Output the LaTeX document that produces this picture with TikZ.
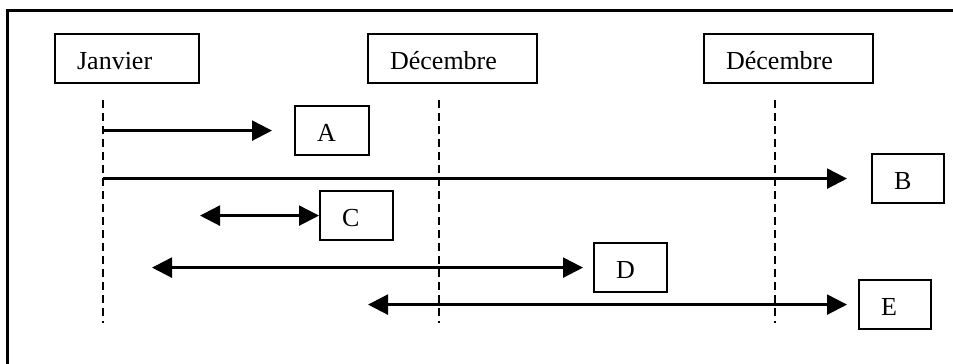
\documentclass[tikz,border=0pt]{standalone}
\usepackage{fontspec}
\setmainfont{Liberation Serif}
\usetikzlibrary{arrows.meta}
\begin{document}
\begin{tikzpicture}[x=1pt,y=-1pt,
  lbl/.style={draw, line width=2.2pt, anchor=north west, minimum height=49pt,
    inner xsep=22pt, inner ysep=0pt, align=left, text height=22pt, text depth=0pt,
    font=\fontsize{26}{30}\selectfont},
  guide/.style={line width=1.8pt, dash pattern=on 8pt off 5pt},
  tipA/.tip={Triangle[length=20pt,width=20pt]},
  one/.style={line width=2.3pt, -tipA},
  two/.style={line width=2.3pt, tipA-tipA},
]
\clip (0,0) rectangle (953,364);

% outer frame (runs past the right and bottom edges)
\draw[line width=3pt] (7,10) rectangle (1000,420);

% period headers
\node[lbl, text width=100pt] (jan) at (54,33) {Janvier};
\node[lbl, text width=125pt] (dec1) at (367,33) {Décembre};
\node[lbl, text width=125pt] (dec2) at (703,33) {Décembre};

% year boundaries
\coordinate (g1t) at (103,100); \coordinate (g1b) at (103,323);
\coordinate (g2t) at (439,100); \coordinate (g2b) at (439,323);
\coordinate (g3t) at (775,100); \coordinate (g3b) at (775,323);
\draw[guide] (g1t) -- (g1b);
\draw[guide] (g2t) -- (g2b);
\draw[guide] (g3t) -- (g3b);

% contract labels
\node[lbl, text width=30pt] (A) at (294,105) {A};
\node[lbl, text width=28pt] (B) at (871,153) {B};
\node[lbl, text width=29pt] (C) at (319,190) {C};
\node[lbl, text width=29pt] (D) at (593,242) {D};
\node[lbl, text width=28pt] (E) at (858,279) {E};

% start points of the double-headed spans
\coordinate (c0) at (200,0);
\coordinate (d0) at (152,0);
\coordinate (e0) at (368,0);

% spans
\draw[one, shorten >=22pt] (g1t |- A.west) -- (A.west);
\draw[one, shorten >=24pt] (g1t |- B.west) -- (B.west);
\draw[two] (c0 |- C.west) -- (C.west);
\draw[two, shorten >=10pt] (d0 |- D.west) -- (D.west);
\draw[two, shorten >=11pt] (e0 |- E.west) -- (E.west);
\end{tikzpicture}
\end{document}
